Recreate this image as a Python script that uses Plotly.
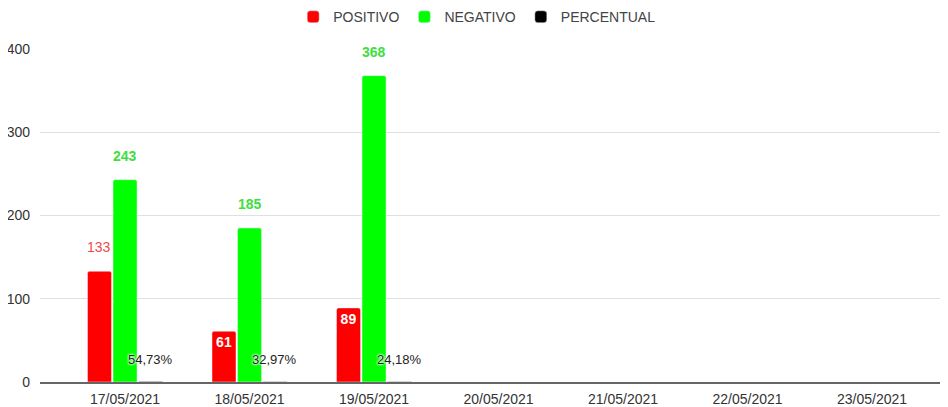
import plotly.graph_objects as go

dates = ["17/05/2021", "18/05/2021", "19/05/2021", "20/05/2021",
         "21/05/2021", "22/05/2021", "23/05/2021"]
positivo = [133, 61, 89, None, None, None, None]
negativo = [243, 185, 368, None, None, None, None]
percentual = [0.5473, 0.3297, 0.2418, None, None, None, None]
percent_labels = ["54,73%", "32,97%", "24,18%"]

# which value labels sit inside the bar (True) or above it (False)
pos_inside = [False, True, True]
neg_inside = [False, False, False]

RED = "#ff0000"
GREEN = "#00ff00"
RED_TXT = "#ee4a4a"
GREEN_TXT = "#3ede3e"
FONT = "Liberation Sans, Arial, sans-serif"

fig = go.Figure()

def inside_text(vals, flags):
    return [str(v) if (v is not None and i < len(flags) and flags[i]) else ""
            for i, v in enumerate(vals)]

fig.add_trace(go.Bar(
    name="POSITIVO", x=dates, y=positivo, marker_color=RED,
    text=inside_text(positivo, pos_inside), textposition="inside",
    insidetextanchor="end", textangle=0,
    textfont=dict(color="white", size=14, family=FONT, weight="bold"),
))
fig.add_trace(go.Bar(
    name="NEGATIVO", x=dates, y=negativo, marker_color=GREEN,
    text=inside_text(negativo, neg_inside), textposition="inside",
    insidetextanchor="end", textangle=0,
    textfont=dict(color="white", size=14, family=FONT, weight="bold"),
))
fig.add_trace(go.Bar(
    name="PERCENTUAL", x=dates, y=percentual, marker_color="#000000",
))

annotations = []
for i, d in enumerate(dates):
    if positivo[i] is not None and not pos_inside[i]:
        annotations.append(dict(x=d, y=positivo[i], text=str(positivo[i]),
                                xshift=-26, yshift=24, showarrow=False,
                                font=dict(color=RED_TXT, size=14, family=FONT)))
    if negativo[i] is not None and not neg_inside[i]:
        annotations.append(dict(x=d, y=negativo[i], text=str(negativo[i]),
                                xshift=0, yshift=24, showarrow=False,
                                font=dict(color=GREEN_TXT, size=14, family=FONT,
                                          weight="bold")))
    if percentual[i] is not None:
        annotations.append(dict(x=d, y=percentual[i], text=percent_labels[i],
                                xshift=25, yshift=22, showarrow=False,
                                font=dict(color="#222222", size=13, family=FONT,
                                          shadow="0px 0px 2px white, 0px 0px 2px white, 0px 0px 3px white")))

# page body has an 8px default margin, so the figure is sized/offset for it
fig.update_layout(
    width=940, height=399,
    margin=dict(l=32, r=8, t=41, b=25, autoexpand=False),
    paper_bgcolor="white", plot_bgcolor="white",
    barmode="group", bargap=0.385, bargroupgap=0.06,
    barcornerradius=2,
    font=dict(family=FONT, size=14, color="#444444"),
    legend=dict(orientation="h", xref="container", yref="container",
                x=0.4986, xanchor="center", y=0.977, yanchor="middle",
                font=dict(size=14, color="#444444"), itemwidth=30,
                traceorder="normal"),
    annotations=annotations,
    showlegend=True,
)
fig.update_xaxes(
    type="category", range=[-0.683, 6.546], automargin=False,
    showline=True, linecolor="#666666", linewidth=1.5,
    showgrid=False, ticks="", ticklabelstandoff=3,
    tickfont=dict(size=14, color="#333333"),
)
fig.update_yaxes(
    range=[0, 400], dtick=100, showgrid=True, gridcolor="#e0e0e0",
    gridwidth=1, zeroline=False, ticks="", ticklabelstandoff=9,
    automargin=False, tickfont=dict(size=14, color="#333333"),
)

fig.write_html("out.html")
